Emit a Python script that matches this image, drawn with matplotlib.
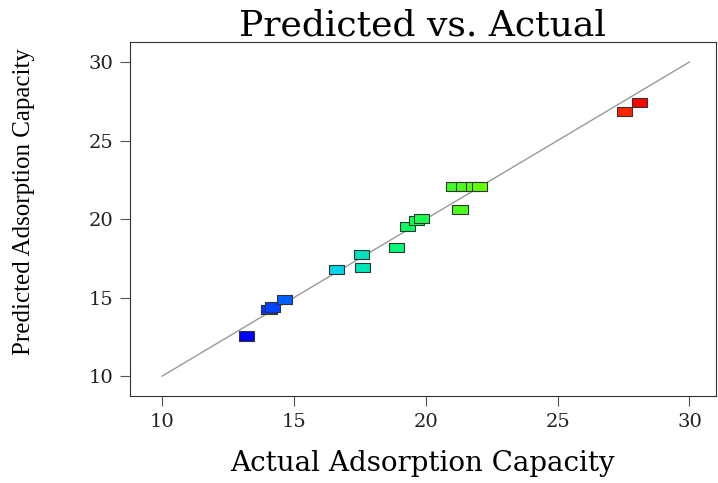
import numpy as np
import matplotlib.pyplot as plt
import matplotlib.colors as mcolors
from matplotlib.path import Path

plt.rcParams['font.family'] = ['DejaVu Serif']

# actual vs predicted adsorption capacity
actual = [13.2, 14.05, 14.2, 14.65, 16.6, 17.55, 17.6, 18.9, 19.3, 19.65, 19.85,
          21.3, 21.05, 21.45, 21.8, 22.05, 27.55, 28.1]
predicted = [12.55, 14.25, 14.4, 14.9, 16.8, 17.75, 16.9, 18.2, 19.5, 19.9, 20.05,
             20.6, 22.05, 22.05, 22.05, 22.05, 26.85, 27.4]

ticks = [10, 15, 20, 25, 30]

CMAP = mcolors.LinearSegmentedColormap.from_list(
    "de", ["#0000ff", "#00ccff", "#00ff66", "#66ff00", "#ffcc00", "#ff0000"])

rect = Path([(-1, -0.6), (1, -0.6), (1, 0.6), (-1, 0.6), (-1, -0.6)],
            [Path.MOVETO, Path.LINETO, Path.LINETO, Path.LINETO, Path.CLOSEPOLY])

fig = plt.figure(figsize=(7.18, 4.83), dpi=100)
ax = fig.add_axes([0.181, 0.180, 0.816, 0.733])

ax.plot([10, 30], [10, 30], color="#999999", linewidth=1.0, zorder=1)
ax.scatter(actual, predicted, c=actual, cmap=CMAP, marker=rect, s=120,
           edgecolors="#333333", linewidths=0.8, zorder=2)

ax.set_xlim(8.78, 31.0)
ax.set_ylim(8.73, 31.27)
ax.set_xticks(ticks)
ax.set_yticks(ticks)
ax.tick_params(direction="out", length=7, width=0.8, color="#555555",
               labelsize=14, pad=5, labelcolor="#222222")

for s in ax.spines.values():
    s.set_linewidth(0.8)
    s.set_color("#333333")

ax.set_title("Predicted vs. Actual", fontsize=26, pad=4)
ax.set_xlabel("Actual Adsorption Capacity", fontsize=20, labelpad=14)
ax.set_ylabel("Predicted Adsorption Capacity", fontsize=18,
              family="Liberation Serif")
ax.yaxis.set_label_coords(-0.162, 0.55)

fig.savefig("out.png", dpi=100)
